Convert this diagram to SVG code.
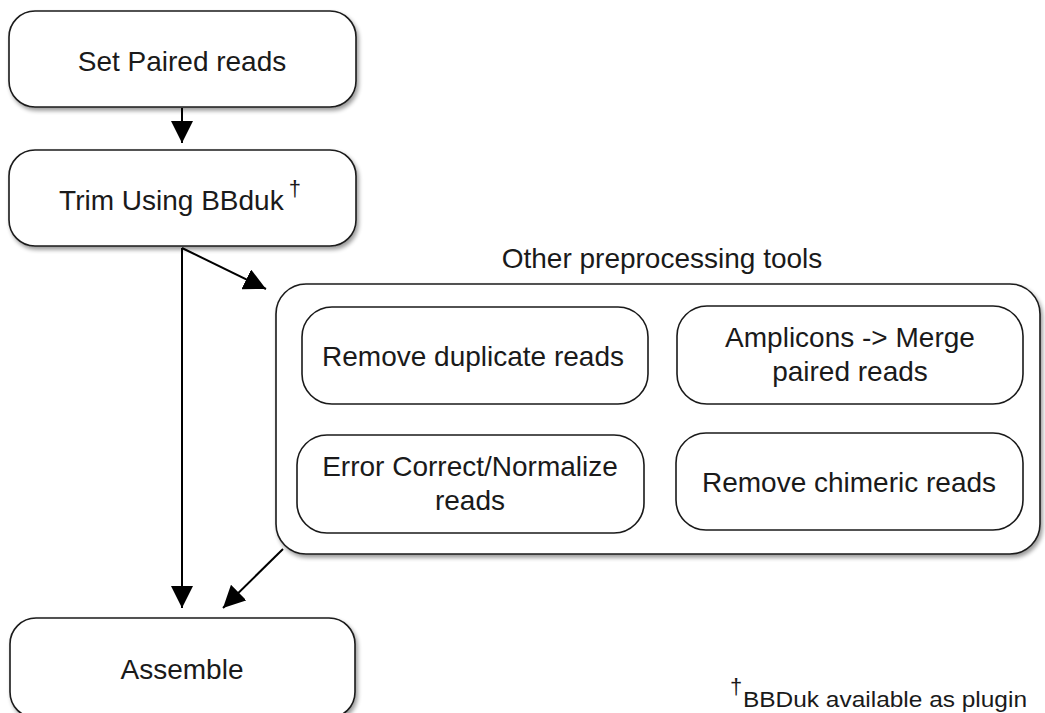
<svg xmlns="http://www.w3.org/2000/svg" width="1045" height="713" viewBox="0 0 1045 713">
  <defs>
    <style>
      .box { fill: #ffffff; stroke: #1a1a1a; stroke-width: 1.6; }
      .lbl { font-family: "Liberation Sans", Arial, sans-serif; font-size: 28px; fill: #1a1a1a; text-anchor: middle; }
      .note { font-family: "Liberation Sans", Arial, sans-serif; fill: #1a1a1a; }
      .edge { stroke: #000000; stroke-width: 2; fill: none; }
    </style>
    <filter id="shadow" x="-5%" y="-10%" width="115%" height="130%">
      <feGaussianBlur in="SourceAlpha" stdDeviation="2"/>
      <feOffset dx="2" dy="3" result="off"/>
      <feComponentTransfer><feFuncA type="linear" slope="0.4"/></feComponentTransfer>
      <feMerge><feMergeNode/><feMergeNode in="SourceGraphic"/></feMerge>
    </filter>
    <marker id="arrowBig" viewBox="0 0 10 10" refX="10" refY="5" markerWidth="22" markerHeight="22" markerUnits="userSpaceOnUse" orient="auto">
      <path d="M0,0 L10,5 L0,10 Z" fill="#000"/>
    </marker>
  </defs>
  <rect width="1045" height="713" fill="#ffffff"/>

  <!-- pipeline steps -->
  <g id="set-paired">
    <rect class="box" x="9" y="11" width="347" height="96" rx="26" filter="url(#shadow)"/>
    <text class="lbl" x="182" y="71">Set Paired reads</text>
  </g>

  <g id="trim">
    <rect class="box" x="9" y="150" width="347" height="96" rx="26" filter="url(#shadow)"/>
    <text class="lbl" x="180" y="210">Trim Using BBduk<tspan dx="5" dy="-14" font-size="22">†</tspan></text>
  </g>

  <g id="other-tools">
    <text class="lbl" x="662" y="268">Other preprocessing tools</text>
    <rect class="box" x="276" y="284" width="764" height="270" rx="30" filter="url(#shadow)"/>
  </g>

  <g id="remove-duplicates">
    <rect class="box" x="302" y="307" width="346" height="97" rx="30"/>
    <text class="lbl" x="473" y="366">Remove duplicate reads</text>
  </g>

  <g id="merge-paired">
    <rect class="box" x="677" y="306" width="346" height="98" rx="30"/>
    <text class="lbl" x="850" y="347">Amplicons -&gt; Merge</text>
    <text class="lbl" x="850" y="381">paired reads</text>
  </g>

  <g id="error-correct">
    <rect class="box" x="297" y="435" width="347" height="98" rx="30"/>
    <text class="lbl" x="470" y="476">Error Correct/Normalize</text>
    <text class="lbl" x="470" y="510">reads</text>
  </g>

  <g id="remove-chimeric">
    <rect class="box" x="676" y="433" width="347" height="97" rx="30"/>
    <text class="lbl" x="849" y="492">Remove chimeric reads</text>
  </g>

  <g id="assemble">
    <rect class="box" x="10" y="618" width="345" height="100" rx="26" filter="url(#shadow)"/>
    <text class="lbl" x="182" y="679">Assemble</text>
  </g>

  <!-- connectors -->
  <g id="connectors">
    <line class="edge" x1="182" y1="108" x2="182" y2="143" marker-end="url(#arrowBig)"/>
    <line class="edge" x1="182" y1="248" x2="182" y2="608" marker-end="url(#arrowBig)"/>
    <line class="edge" x1="182" y1="248" x2="266" y2="289" marker-end="url(#arrowBig)"/>
    <line class="edge" x1="283" y1="549" x2="223" y2="608" marker-end="url(#arrowBig)"/>
  </g>

  <!-- footnote -->
  <g id="footnote">
    <text class="note" font-size="22" x="730" y="694">†</text>
    <text class="note" font-size="22" x="743" y="707" textLength="284" lengthAdjust="spacingAndGlyphs">BBDuk available as plugin</text>
  </g>
</svg>
